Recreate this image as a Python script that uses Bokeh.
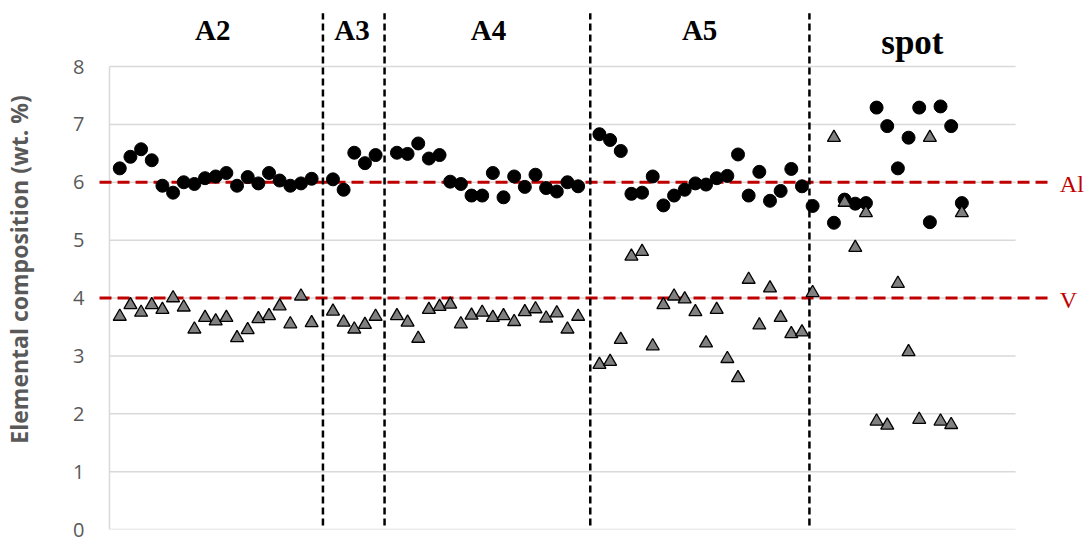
from bokeh.plotting import figure
from bokeh.models import Range1d, FixedTicker, ColumnDataSource
from bokeh.core.properties import value
from bokeh.embed import file_html
from bokeh.resources import INLINE

nan = float("nan")

# ---------------- data ----------------
group_names = ["A2", "A3", "A4", "A5", "spot"]
group_start = [1, 21, 27, 46, 66]          # sample index of first point of each group

a2_al = [6.24, 6.44, 6.57, 6.38, 5.94, 5.82, 6.00, 5.97, 6.07, 6.10, 6.16, 5.94, 6.09, 5.98, 6.16, 6.03, 5.94, 5.98, 6.06]
a2_v = [3.68, 3.88, 3.75, 3.88, 3.80, 4.00, 3.84, 3.46, 3.66, 3.60, 3.66, 3.31, 3.45, 3.64, 3.69, 3.86, 3.55, 4.03, 3.57]
a3_al = [6.05, 5.87, 6.51, 6.33, 6.47]
a3_v = [3.77, 3.58, 3.46, 3.54, 3.68]
a4_al = [6.51, 6.49, 6.67, 6.41, 6.47, 6.01, 5.97, 5.77, 5.77, 6.16, 5.74, 6.10, 5.92, 6.13, 5.90, 5.84, 6.00, 5.93]
a4_v = [3.69, 3.58, 3.30, 3.80, 3.85, 3.89, 3.55, 3.70, 3.75, 3.66, 3.69, 3.59, 3.76, 3.81, 3.65, 3.74, 3.46, 3.68]
a5_al = [6.83, 6.73, 6.54, 5.80, 5.82, 6.10, 5.60, 5.77, 5.87, 5.98, 5.96, 6.07, 6.11, 6.48, 5.77, 6.18, 5.68, 5.85, 6.23, 5.93]
a5_v = [2.85, 2.90, 3.28, 4.72, 4.80, 3.17, 3.88, 4.03, 3.98, 3.76, 3.22, 3.80, 2.95, 2.62, 4.32, 3.53, 4.17, 3.66, 3.38, 3.41]
spot_al = [5.59, nan, 5.30, 5.70, 5.63, 5.64, 7.29, 6.97, 6.24, 6.77, 7.29, 5.31, 7.31, 6.97, 5.64]
spot_v = [4.09, nan, 6.77, 5.65, 4.87, 5.47, 1.87, 1.80, 4.25, 3.07, 1.90, 6.77, 1.87, 1.81, 5.47]

ref_names = ["Al", "V"]
ref_values = [6, 4]

divider_x = [20.06, 25.84, 45.14, 65.70]
y_ticks = [0, 1, 2, 3, 4, 5, 6, 7, 8]

# ---------------- assemble ----------------
al_groups = [a2_al, a3_al, a4_al, a5_al, spot_al]
v_groups = [a2_v, a3_v, a4_v, a5_v, spot_v]
xs, al, v = [], [], []
for s, ga, gv in zip(group_start, al_groups, v_groups):
    for i, (a, b) in enumerate(zip(ga, gv)):
        xs.append(s + i)
        al.append(a)
        v.append(b)

PX_PER_UNIT = 57.875
p = figure(width=1086, height=541, output_backend="svg", toolbar_location=None,
           x_range=Range1d(-1.090, 91.694), y_range=Range1d(0, 520 / PX_PER_UNIT),
           min_border_left=96, min_border_right=0, min_border_top=9, min_border_bottom=12)
p.xaxis.visible = False
p.xgrid.visible = False
p.ygrid.visible = False
p.outline_line_color = None
p.background_fill_color = "white"
p.border_fill_color = "white"

ax = p.yaxis[0]
ax.ticker = FixedTicker(ticks=y_ticks)
ax.axis_line_color = None
ax.major_tick_line_color = None
ax.minor_tick_line_color = None
ax.major_tick_out = 0
ax.major_label_standoff = 13
ax.major_label_text_font = "Open Sans"
ax.major_label_text_font_size = "20px"
ax.major_label_text_color = "#595959"
ax.axis_label = "Elemental composition (wt. %)"
ax.axis_label_text_font = "Open Sans"
ax.axis_label_text_font_size = "23px"
ax.axis_label_text_font_style = "bold"
ax.axis_label_text_color = "#595959"
ax.axis_label_standoff = 35

# gridlines (plot area only)
grid_x0, grid_x1 = 0.035, 85.04
p.segment(x0=[grid_x0] * len(y_ticks), x1=[grid_x1] * len(y_ticks), y0=y_ticks, y1=y_ticks,
          line_color="#d9d9d9", line_width=1.5)
p.segment(x0=[grid_x0], x1=[grid_x0], y0=[0], y1=[8], line_color="#d9d9d9", line_width=1.5)

# reference lines
p.segment(x0=[-0.90] * 2, x1=[88.13] * 2, y0=ref_values, y1=ref_values,
          line_color="#C00000", line_width=3, line_dash="12 6")
p.text(x=[89.19] * 2, y=ref_values, text=ref_names, y_offset=2,
       text_font=value("Liberation Serif"), text_font_size="24px", text_color="#C00000",
       text_align="left", text_baseline="middle")

# group dividers
p.segment(x0=divider_x, x1=divider_x, y0=[0.07] * 4, y1=[8.92] * 4,
          line_color="black", line_width=2.5, line_dash="7 4")

# group labels
label_x = [9.72, 22.79, 35.60, 55.40, 75.36]
label_y = [8.63, 8.63, 8.63, 8.63, 8.415]
label_size = ["29px", "29px", "29px", "29px", "35px"]
lab_src = ColumnDataSource(dict(x=label_x, y=label_y, t=group_names, fs=label_size))
p.text(x="x", y="y", text="t", source=lab_src, text_font=value("Liberation Serif"),
       text_font_size="fs", text_font_style="bold", text_align="center",
       text_baseline="alphabetic", text_color="black")

# data points
p.scatter(x=xs, y=al, marker="circle", size=13, fill_color="black", line_color="black")
p.scatter(x=xs, y=v, marker="triangle", size=13, fill_color="#808080", line_color="black",
          line_width=1.3)

open("out.html", "w").write(file_html(p, INLINE))
